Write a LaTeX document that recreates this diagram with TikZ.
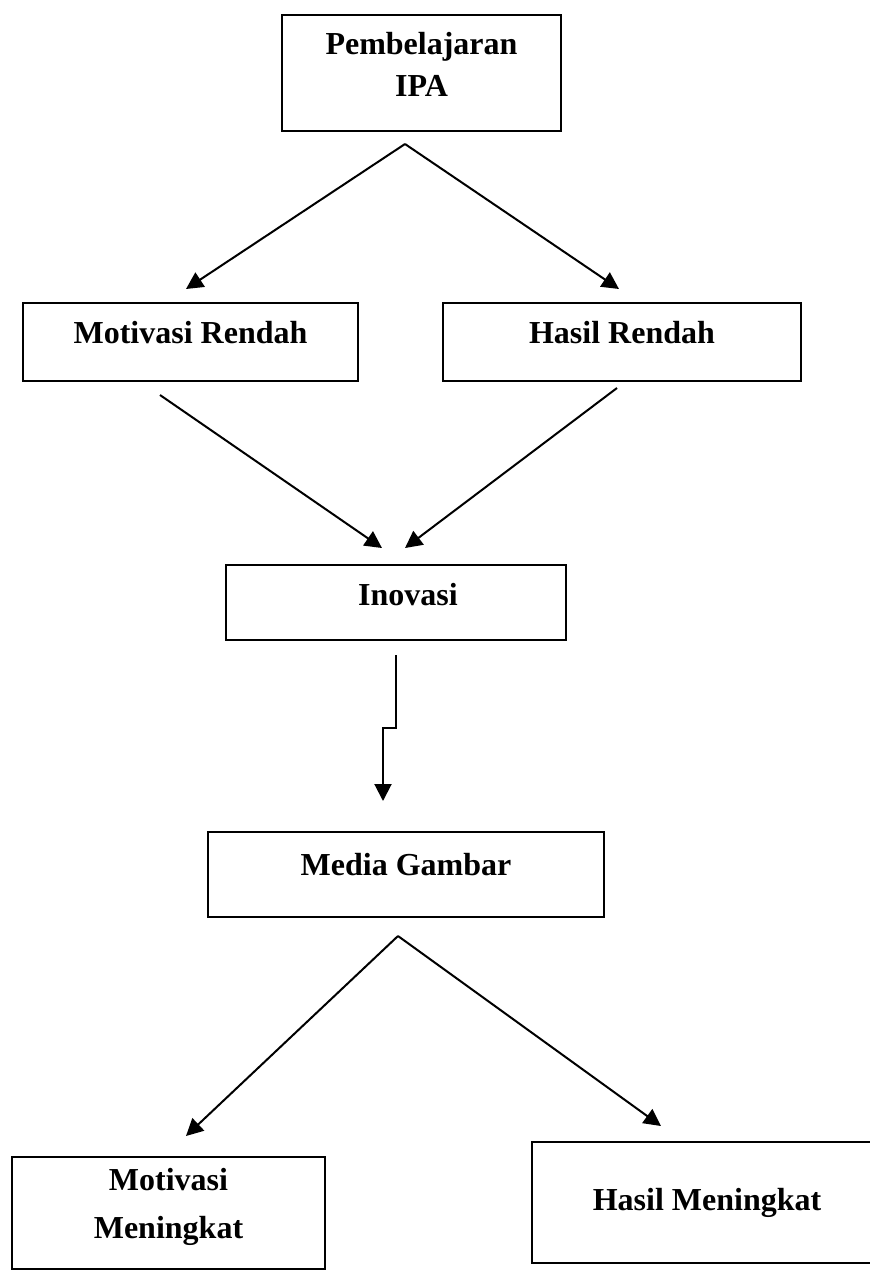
\documentclass[tikz,border=0pt]{standalone}
\usepackage{fontspec}
\setmainfont{Liberation Serif}
\usetikzlibrary{arrows.meta}
\begin{document}
\begin{tikzpicture}[x=0.5pt,y=-0.5pt,
  box/.style={draw,line width=1.3pt,inner sep=0pt},
  lbl/.style={font=\bfseries\fontsize{16}{21}\selectfont,align=center,inner sep=0pt},
  arr/.style={line width=1pt,-{Triangle[length=8.5pt,width=8.5pt]}}]
\useasboundingbox (0,0) rectangle (870,1271);
\clip (0,0) rectangle (870,1271);
% boxes
\node[box,minimum width=139.5pt,minimum height=58pt] (ipa) at (421.5,73) {};
\node[lbl] (ipat) at (421.5,64) {Pembelajaran\\IPA};
\node[box,minimum width=167.5pt,minimum height=39pt] (mr) at (190.5,342) {};
\node[lbl] (mrt) at (190.5,333) {Motivasi Rendah};
\node[box,minimum width=179pt,minimum height=39pt] (hr) at (622,342) {};
\node[lbl] (hrt) at (622,333) {Hasil Rendah};
\node[box,minimum width=170pt,minimum height=37.5pt] (inov) at (396,602.5) {};
\node[lbl] (inovt) at (408,595) {Inovasi};
\node[box,minimum width=198pt,minimum height=42.5pt] (mg) at (406,874.5) {};
\node[lbl] (mgt) at (406,865) {Media Gambar};
\node[box,minimum width=156.5pt,minimum height=56pt] (mm) at (168.5,1213) {};
\node[lbl,font=\bfseries\fontsize{16}{24}\selectfont] (mmt) at (168.5,1207) {Motivasi\\Meningkat};
\node[box,minimum width=175pt,minimum height=60.5pt] (hm) at (707,1202.5) {};
\node[lbl] (hmt) at (707,1203) {Hasil Meningkat};
% connector points
\coordinate (a1) at (405,144);
\coordinate (t1) at (186,289);
\coordinate (t2) at (619,289);
\coordinate (s1) at (160,395);
\coordinate (s2) at (617,388);
\coordinate (t3) at (382,548);
\coordinate (t4) at (405,548);
\coordinate (e0) at (396,655);
\coordinate (e1) at (396,728);
\coordinate (e2) at (383,728);
\coordinate (t5) at (383,801);
\coordinate (a2) at (398,936);
\coordinate (t6) at (186,1136);
\coordinate (t7) at (661,1126);
% connectors
\draw[arr] (a1) -- (t1);
\draw[arr] (a1) -- (t2);
\draw[arr] (s1) -- (t3);
\draw[arr] (s2) -- (t4);
\draw[arr] (e0) -- (e1) -- (e2) -- (t5);
\draw[arr] (a2) -- (t6);
\draw[arr] (a2) -- (t7);
\end{tikzpicture}
\end{document}
